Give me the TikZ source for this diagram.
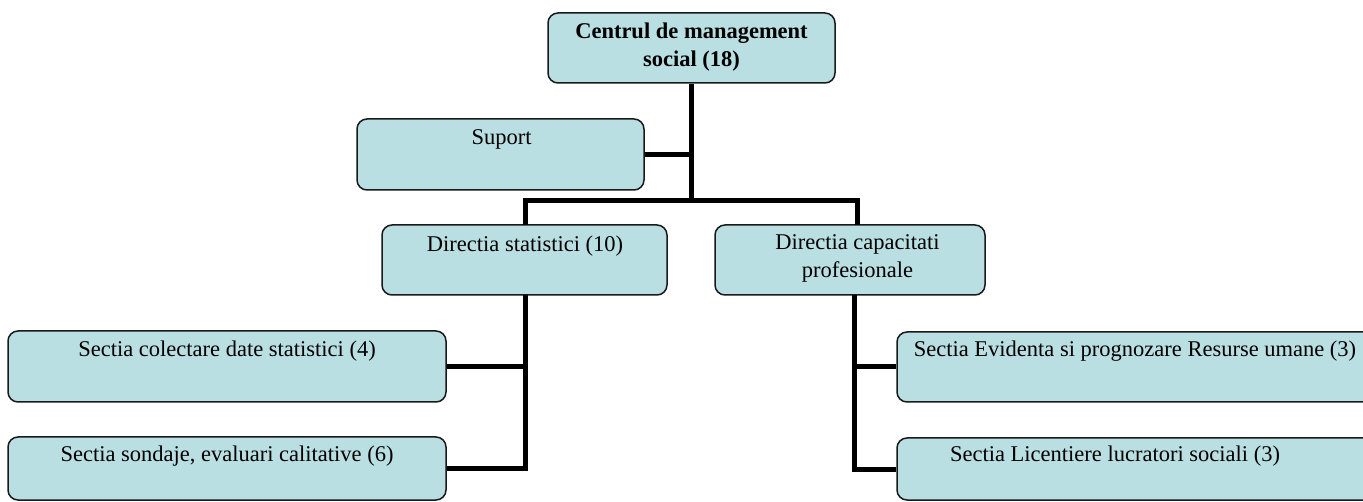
\documentclass[tikz,border=0pt]{standalone}
\usepackage{fontspec}
\setmainfont{Liberation Serif}
\definecolor{boxfill}{RGB}{186,223,227}
\definecolor{boxline}{RGB}{25,25,25}
\begin{document}
\begin{tikzpicture}[x=1pt,y=-1pt,
  box/.style={draw=boxline, line width=1.5pt, fill=boxfill, rounded corners=10pt,
              inner sep=0pt, minimum width=#1},
  box/.default=287pt,
  lbl/.style={inner sep=0pt, anchor=base, align=center,
              font=\fontsize{22.5}{28}\selectfont},
  conn/.style={line width=5pt, draw=black}]
\useasboundingbox (0,0) rectangle (1363,502);
\fill[white] (0,0) rectangle (1363,502);
\clip (0,0) rectangle (1363,502);

% boxes (drawn as empty shapes, labels placed separately)
\node[box=287pt, minimum height=70pt] (centrul) at (691.5,48) {};
\node[box=287pt, minimum height=71pt] (suport)  at (500.5,154.5) {};
\node[box=285pt, minimum height=70pt] (ds)      at (524.5,260) {};
\node[box=270pt, minimum height=70pt] (dc)      at (850,260) {};
\node[box=438pt, minimum height=71pt] (col)     at (227,366.5) {};
\node[box=438pt, minimum height=63pt] (son)     at (227,468.5) {};
\node[box=493pt, minimum height=70pt] (evi)     at (1143.5,367) {};
\node[box=493pt, minimum height=62pt] (lic)     at (1143.5,469) {};

% connectors
\coordinate (bus) at (691.5,201);
\coordinate (dsbus) at (525,201);
\coordinate (dcbus) at (857,201);
\coordinate (dstop) at (525,225);
\coordinate (dctop) at (857,225);
\coordinate (dsfoot) at (525,295);
\coordinate (dcfoot) at (854,295);
\draw[conn] (centrul.south) -- (bus);
\draw[conn] (suport.east) -- (suport.east -| bus);
\draw[conn] (dstop) -- (dsbus) -- (dcbus) -- (dctop);
\draw[conn] (dsfoot) |- (son.east);
\draw[conn] (col.east) -- (col.east -| dsfoot);
\draw[conn] (dcfoot) |- (lic.west);
\draw[conn] (evi.west) -- (evi.west -| dcfoot);

% labels (base anchor sits on the last line)
\node[lbl] (centrul-t) at (691.5,66.7) {\bfseries Centrul de management\\\bfseries social (18)};
\node[lbl] (suport-t)  at (501.7,145) {Suport};
\node[lbl] (ds-t)      at (525,252) {Directia statistici (10)};
\node[lbl] (dc-t)      at (857.5,277.7) {Directia capacitati\\profesionale};
\node[lbl] (col-t)     at (227,356.7) {Sectia colectare date statistici (4)};
\node[lbl] (son-t)     at (227,461.7) {Sectia sondaje, evaluari calitative (6)};
\node[lbl] (evi-t)     at (1135,356.7) {Sectia Evidenta si prognozare Resurse umane (3)};
\node[lbl] (lic-t)     at (1115,461.7) {Sectia Licentiere lucratori sociali (3)};
\end{tikzpicture}
\end{document}
